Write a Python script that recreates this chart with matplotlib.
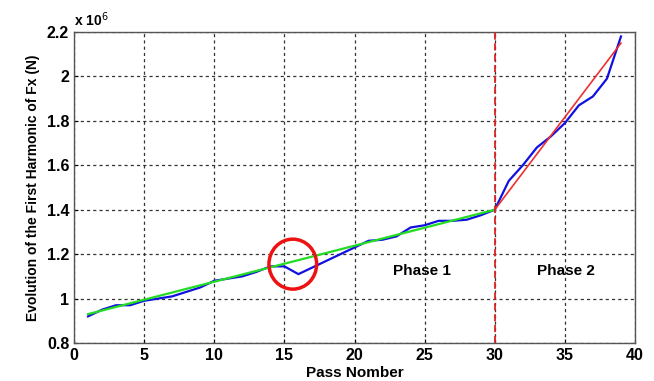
import numpy as np
import matplotlib
matplotlib.use('Agg')
import matplotlib.pyplot as plt
from matplotlib.patches import Ellipse

plt.rcParams['font.family'] = ['Liberation Sans', 'DejaVu Sans']

# measured first-harmonic force (x 10^6 N) per pass
passes = list(range(1, 40))
fx = [0.92, 0.95, 0.97, 0.97, 0.99, 1.00, 1.01, 1.03, 1.05, 1.08,
      1.09, 1.10, 1.12, 1.145, 1.145, 1.11, 1.14, 1.17, 1.20, 1.23,
      1.26, 1.265, 1.28, 1.32, 1.33, 1.35, 1.35, 1.355, 1.375, 1.40,
      1.53, 1.60, 1.68, 1.73, 1.79, 1.87, 1.91, 1.99, 2.18]

# linear trends for the two phases
phase1_x = [1, 30]
phase1_y = [0.93, 1.40]
phase2_x = [30, 39]
phase2_y = [1.40, 2.15]

fig = plt.figure(figsize=(6.54, 3.81), dpi=100)
ax = fig.add_axes([74/654, 1 - 343/381, (635-74)/654, (343-32)/381])

ax.plot(passes, fx, color='#1010e0', lw=1.6, zorder=3)
ax.plot(phase1_x, phase1_y, color='#22dd22', lw=1.6, zorder=4)
ax.plot(phase2_x, phase2_y, color='#ee3030', lw=1.2, zorder=4)
ax.axvline(30, color='#dd2222', lw=1.3, ls=(0, (4, 2)), zorder=5)

# circle around the dip near pass 16
ax.add_patch(Ellipse((15.6, 1.155), 3.4, 0.225, fill=False,
                     edgecolor='#ee1111', lw=2.5, zorder=6))

ax.text(24.8, 1.125, 'Phase 1', fontsize=11, fontweight='bold', ha='center', va='center')
ax.text(35.1, 1.125, 'Phase 2', fontsize=11, fontweight='bold', ha='center', va='center')

ax.set_xlim(0, 40)
ax.set_ylim(0.8, 2.2)
ax.set_xticks(range(0, 41, 5))
ax.set_yticks([0.8, 1.0, 1.2, 1.4, 1.6, 1.8, 2.0, 2.2])
ax.set_yticklabels(['0.8', '1', '1.2', '1.4', '1.6', '1.8', '2', '2.2'])
ax.tick_params(direction='in', labelsize=11.5, width=0.8, length=3)
for lbl in ax.get_xticklabels() + ax.get_yticklabels():
    lbl.set_fontweight('bold')
ax.grid(True, color='#333333', ls=(0, (2.5, 2.5)), lw=0.9)
for sp in ax.spines.values():
    sp.set_color('#555555')
    sp.set_linewidth(1.0)

ax.set_xlabel('Pass Nomber', fontsize=11, fontweight='bold', labelpad=2)
ax.set_ylabel('Evolution of the First Harmonic of Fx (N)', fontsize=10,
              fontweight='bold', labelpad=5)
ax.text(0.0, 1.01, r'x 10$^{6}$', transform=ax.transAxes, fontsize=10,
        fontweight='bold', ha='left', va='bottom')

fig.savefig('out.png', dpi=100)
